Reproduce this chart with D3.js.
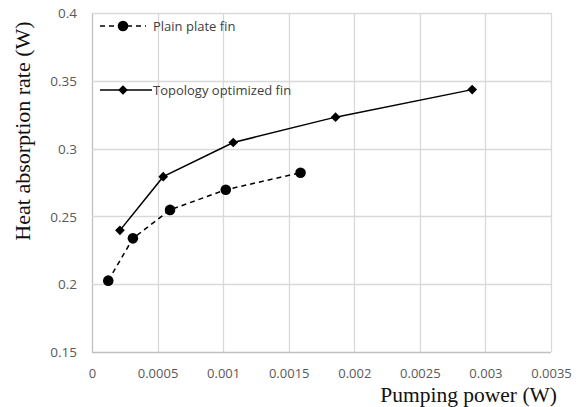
<!DOCTYPE html>
<html>
<head>
<meta charset="utf-8">
<script src="https://cdn.jsdelivr.net/npm/d3@7"></script>
<style>
html,body{margin:0;padding:0;background:#fff;}
svg{display:block;}
</style>
</head>
<body>
<svg id="chart" width="584" height="407"></svg>
<script>
const plainX = [0.000124, 0.000312, 0.000595, 0.00102, 0.00159];
const plainY = [0.2026, 0.2338, 0.2548, 0.2697, 0.2822];
const topoX = [0.000213, 0.000543, 0.001077, 0.001857, 0.002899];
const topoY = [0.2397, 0.2793, 0.3045, 0.3232, 0.3435];
const xTicks = [0, 0.0005, 0.001, 0.0015, 0.002, 0.0025, 0.003, 0.0035];
const xTickLabels = ["0", "0.0005", "0.001", "0.0015", "0.002", "0.0025", "0.003", "0.0035"];
const yTicks = [0.15, 0.2, 0.25, 0.3, 0.35, 0.4];
const yTickLabels = ["0.15", "0.2", "0.25", "0.3", "0.35", "0.4"];
const seriesNames = ["Plain plate fin", "Topology optimized fin"];
const xTitle = "Pumping power (W)";
const yTitle = "Heat absorption rate (W)";

const svg = d3.select("#chart");
const L = 92, R = 551, T = 13, B = 352;
const x = d3.scaleLinear().domain([0, 0.0035]).range([L, R]);
const y = d3.scaleLinear().domain([0.15, 0.4]).range([B, T]);
const gridColor = "#d9d9d9";
const tickFont = "'Open Sans', sans-serif";

// grid
const g = svg.append("g");
g.selectAll("line.v").data(xTicks).join("line")
  .attr("x1", d => Math.round(x(d)) + 0.5).attr("x2", d => Math.round(x(d)) + 0.5)
  .attr("y1", T).attr("y2", B)
  .attr("stroke", (d, i) => i === 0 ? "#c0c0c0" : gridColor).attr("stroke-width", 1.3);
g.selectAll("line.h").data(yTicks).join("line")
  .attr("y1", d => Math.round(y(d)) + 0.5).attr("y2", d => Math.round(y(d)) + 0.5)
  .attr("x1", L).attr("x2", R)
  .attr("stroke", (d, i) => i === 0 ? "#c0c0c0" : gridColor).attr("stroke-width", 1.3);

// axes with d3 axis generators (labels only)
const xAxis = d3.axisBottom(x).tickValues(xTicks).tickSize(0).tickFormat((d, i) => xTickLabels[i]);
const xa = svg.append("g").attr("transform", `translate(0,${B})`).call(xAxis);
xa.select(".domain").remove();
xa.selectAll("text").attr("dy", null).attr("y", 26).attr("fill", "#595959")
  .style("font-family", tickFont).style("font-size", "13px");

const yAxis = d3.axisLeft(y).tickValues(yTicks).tickSize(0).tickFormat((d, i) => yTickLabels[i]);
const ya = svg.append("g").attr("transform", `translate(${L},0)`).call(yAxis);
ya.select(".domain").remove();
ya.selectAll("text").attr("x", -15).attr("dy", "0.35em").attr("fill", "#595959")
  .style("font-family", tickFont).style("font-size", "13.5px");

// titles
svg.append("text").attr("x", 557).attr("y", 402).attr("text-anchor", "end")
  .style("font-family", "'Liberation Serif', serif").style("font-size", "21.5px").attr("fill", "#111")
  .text(xTitle);
svg.append("text").attr("transform", "translate(30,131) rotate(-90)").attr("text-anchor", "middle")
  .style("font-family", "'Liberation Serif', serif").style("font-size", "22px").attr("fill", "#111")
  .text(yTitle);

// series
const plain = plainX.map((d, i) => [d, plainY[i]]);
const topo = topoX.map((d, i) => [d, topoY[i]]);
const line = d3.line().x(d => x(d[0])).y(d => y(d[1]));

svg.append("path").datum(plain).attr("d", line).attr("fill", "none")
  .attr("stroke", "#000").attr("stroke-width", 1.5).attr("stroke-dasharray", "5,4");
svg.append("path").datum(topo).attr("d", line).attr("fill", "none")
  .attr("stroke", "#000").attr("stroke-width", 1.5);

svg.selectAll("circle.p").data(plain).join("circle")
  .attr("cx", d => x(d[0])).attr("cy", d => y(d[1])).attr("r", 5.3).attr("fill", "#000");
const diamond = d3.symbol().type(d3.symbolDiamond2).size(60);
svg.selectAll("path.t").data(topo).join("path")
  .attr("d", diamond).attr("transform", d => `translate(${x(d[0])},${y(d[1])})`).attr("fill", "#000");

// legend
const lg = svg.append("g");
lg.append("line").attr("x1", 100).attr("x2", 146).attr("y1", 26).attr("y2", 26)
  .attr("stroke", "#000").attr("stroke-width", 1.5).attr("stroke-dasharray", "5,4");
lg.append("circle").attr("cx", 123).attr("cy", 26).attr("r", 5.3).attr("fill", "#000");
lg.append("text").attr("x", 153).attr("y", 26).attr("dy", "0.35em").attr("fill", "#404040")
  .style("font-family", tickFont).style("font-size", "13px").text(seriesNames[0]);
lg.append("line").attr("x1", 100).attr("x2", 152).attr("y1", 90).attr("y2", 90)
  .attr("stroke", "#000").attr("stroke-width", 1.5);
lg.append("path").attr("d", diamond).attr("transform", "translate(123,90)").attr("fill", "#000");
lg.append("text").attr("x", 153).attr("y", 90).attr("dy", "0.35em").attr("fill", "#404040")
  .style("font-family", tickFont).style("font-size", "13px").text(seriesNames[1]);
</script>
</body>
</html>
